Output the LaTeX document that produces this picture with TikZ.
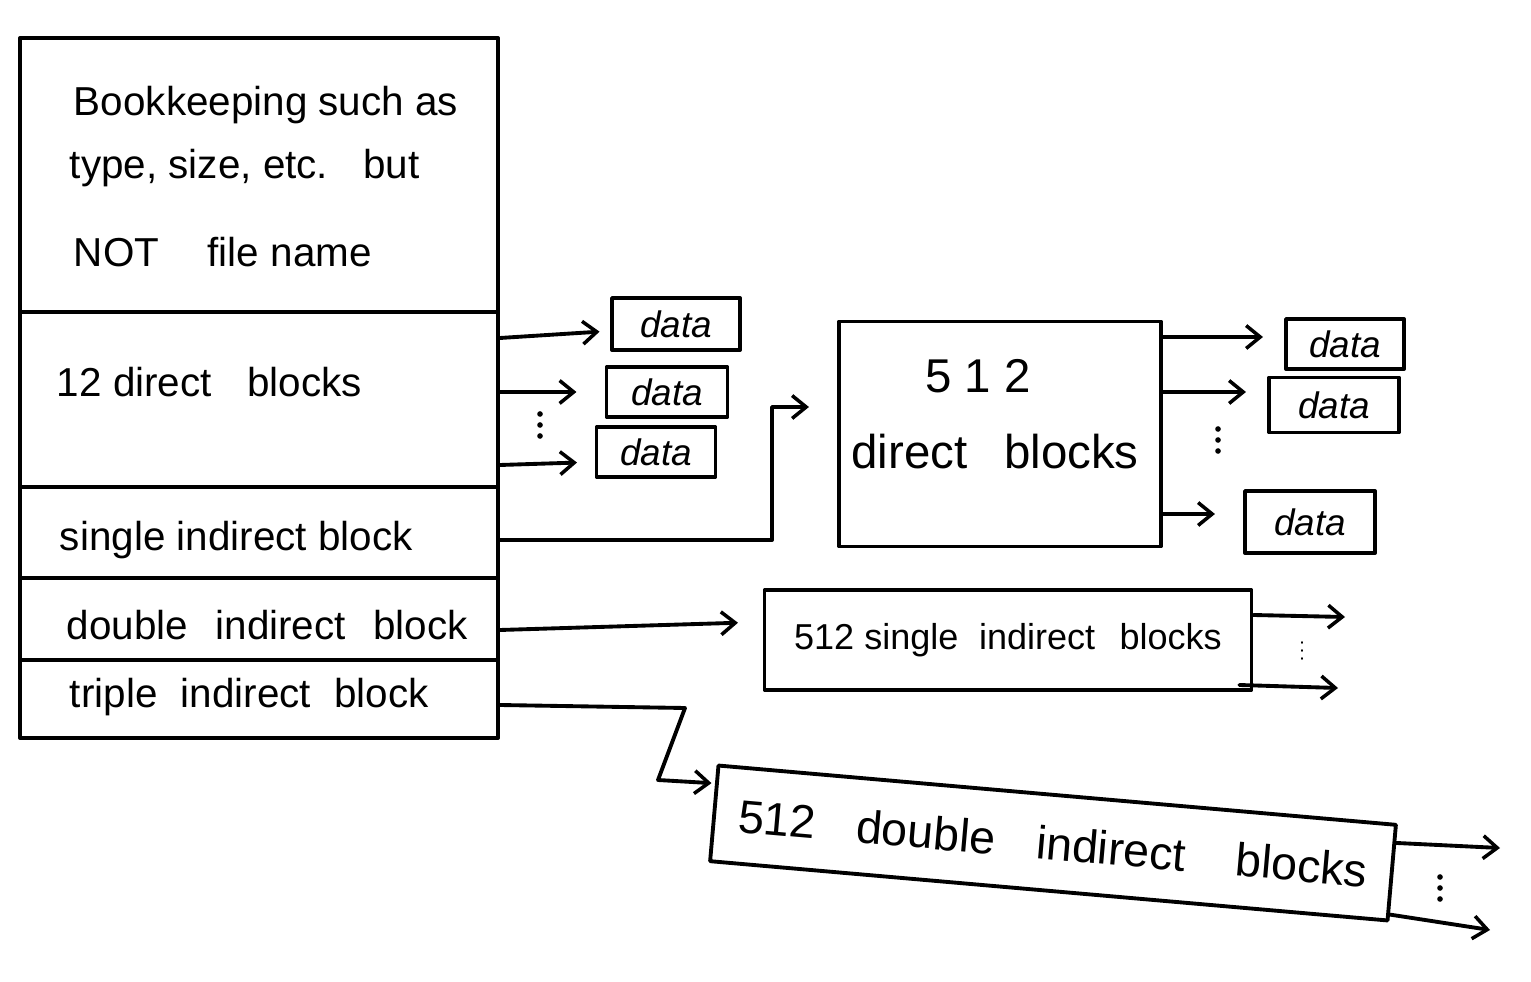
\documentclass[tikz,border=0pt]{standalone}
\usepackage{fontspec}
\setmainfont{Liberation Sans}
\usetikzlibrary{arrows.meta,calc}
\newcommand{\vdotsat}[2]{\fill (#1,#2-11) circle (1.6pt) (#1,#2) circle (1.6pt) (#1,#2+11) circle (1.6pt);}
\begin{document}
\begin{tikzpicture}[x=0.02cm,y=-0.02cm,line width=2.2pt,line cap=round,line join=round,
  arr/.style={-{Straight Barb[length=8pt,width=13pt,line width=2pt]}},
  box/.style={draw,rectangle,inner sep=0pt},
  sec/.style={draw,rectangle,inner sep=0pt,minimum width={478*0.02cm}},
  datab/.style={draw,rectangle,inner sep=0pt,font=\fontsize{21}{24}\selectfont\itshape},
  big/.style={anchor=west,inner sep=0pt,font=\fontsize{23}{26}\selectfont}]
\useasboundingbox (0,0) rectangle (1531,982);
% left inode
\node[sec,minimum height={274*0.02cm}] (book) at (259,175) {};
\node[sec,minimum height={175*0.02cm}] (direct) at (259,399.5) {};
\node[sec,minimum height={91*0.02cm}] (single) at (259,532.5) {};
\node[sec,minimum height={82*0.02cm}] (double) at (259,619) {};
\node[sec,minimum height={78*0.02cm}] (triple) at (259,699) {};
\node[big] (t1) at (72,105) {Bookkeeping such as};
\node[big] (t2) at (68,168) {type, size, etc.\hspace{0.5em} but};
\node[big] (t3) at (72,252) {NOT\hspace{1.2em}file name};
\node[big] (t4) at (55,382) {12 direct\hspace{0.6em} blocks};
\node[big] (t5) at (58,540) {single indirect block};
\node[big] (t6) at (65,625) {double\hspace{0.4em} indirect\hspace{0.4em} block};
\node[big] (t7) at (68,697) {triple\hspace{0.3em} indirect\hspace{0.3em} block};
% direct data blocks
\node[datab,minimum width={128*0.02cm},minimum height={52*0.02cm}] (a1) at (676,324) {data};
\node[datab,minimum width={121*0.02cm},minimum height={50*0.02cm}] (a2) at (667,392) {data};
\node[datab,minimum width={119*0.02cm},minimum height={50*0.02cm}] (a3) at (656,452) {data};
\draw[arr,shorten >=6pt] (direct.east |- 0,338) -- (a1.west |- 0,331);
\draw[arr,shorten >=16pt] (direct.east |- a2.west) -- (a2.west);
\draw[arr,shorten >=10pt] (direct.east |- 0,465) -- (a3.west |- 0,462);
\vdotsat{540}{425}
% single indirect
\node[box,minimum width={322*0.02cm},minimum height={225*0.02cm}] (d512) at (1000,434) {};
\node[inner sep=0pt,font=\fontsize{27}{30}\selectfont] (d512a) at (978,376) {5 1 2};
\node[inner sep=0pt,font=\fontsize{27}{30}\selectfont] (d512b) at (995,452) {direct\hspace{0.5em} blocks};
\coordinate (sb) at (772,407);
\draw[arr,shorten >=16pt] (single.east |- 0,540) -| (sb) -- (d512.west |- sb);
\node[datab,minimum width={118*0.02cm},minimum height={50*0.02cm}] (b1) at (1345,344) {data};
\node[datab,minimum width={130*0.02cm},minimum height={55*0.02cm}] (b2) at (1334,405) {data};
\node[datab,minimum width={130*0.02cm},minimum height={62*0.02cm}] (b3) at (1310,522) {data};
\draw[arr,shorten >=12pt] (d512.east |- 0,337) -- (b1.west |- 0,337);
\draw[arr,shorten >=12pt] (d512.east |- 0,392) -- (b2.west |- 0,392);
\draw[arr,shorten >=16pt] (d512.east |- 0,514) -- (b3.west |- 0,514);
\vdotsat{1218}{440}
% double indirect
\node[box,minimum width={487*0.02cm},minimum height={100*0.02cm},font=\fontsize{20.5}{24}\selectfont] (s512) at (1008,640) {512 single\hspace{0.3em} indirect\hspace{0.4em} blocks};
\draw[arr,shorten >=14pt] (double.east |- 0,630) -- (s512.west |- 0,622);
\coordinate (s1) at (1345,617);
\coordinate (s2) at (1338,688);
\draw[arr] (s512.east |- 0,615) -- (s1);
\draw[arr] ([xshift=-8pt]s512.east |- 0,685) -- (s2);
\draw[line width=1pt] (1302,642) -- (1302,643) (1302,650) -- (1302,651) (1302,658) -- (1302,659);
% triple indirect
\node[box,rotate=-5,minimum width={680*0.02cm},minimum height={96*0.02cm},font=\fontsize{26.5}{30}\selectfont] (dd512) at (1053,843) {512\hspace{0.6em} double\hspace{0.6em} indirect\hspace{0.8em} blocks};
\coordinate (tb1) at (685,708);
\coordinate (tb2) at (658,780);
\draw[arr,shorten >=2pt] (triple.east |- 0,705) -- (tb1) -- (tb2) -- ($(dd512.north west)!0.2!(dd512.south west)$);
\coordinate (u1) at (1500,848);
\coordinate (u2) at (1490,930);
\draw[arr] ($(dd512.north east)!0.2!(dd512.south east)$) -- (u1);
\draw[arr] ($(dd512.north east)!0.92!(dd512.south east)$) -- (u2);
\vdotsat{1440}{888}
\end{tikzpicture}
\end{document}
